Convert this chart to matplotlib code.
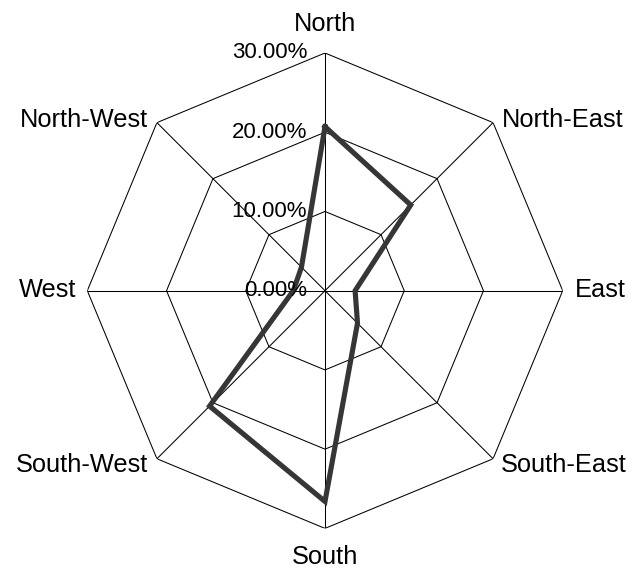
import numpy as np
import matplotlib
matplotlib.use("Agg")
import matplotlib.pyplot as plt

categories = ["North", "North-East", "East", "South-East", "South", "South-West", "West", "North-West"]
values = [20.7, 15.3, 3.8, 5.8, 26.6, 20.6, 4.0, 4.2]
ring_levels = [10, 20, 30]
tick_values = [0, 10, 20, 30]
tick_labels = ["0.00%", "10.00%", "20.00%", "30.00%"]

W, H = 635, 571
fig = plt.figure(figsize=(W / 100, H / 100), dpi=100)
plt.rcParams['font.family'] = ['Liberation Sans', 'DejaVu Sans']

cx, cy_top, R = 325.0, 290.7, 237.7
cy = H - cy_top
ax = fig.add_axes([(cx - R) / W, (cy - R) / H, 2 * R / W, 2 * R / H], projection='polar')
ax.set_theta_zero_location('N')
ax.set_theta_direction(-1)
ax.set_ylim(0, 30)
ax.axis('off')

n = len(categories)
angles = np.arange(n) * 2 * np.pi / n
closed = np.append(angles, angles[0])

# octagonal rings
for lvl in ring_levels:
    ax.plot(closed, [lvl] * (n + 1), color='black', lw=0.75, solid_joinstyle='miter')
# spokes
for a in angles:
    ax.plot([a, a], [0, 30], color='black', lw=0.75)

# data series
ax.plot(closed, values + [values[0]], color='#363636', lw=3.7, solid_joinstyle='miter')

# category labels: (dx, dy) offsets in pixels, alignment
label_specs = [
    (0, 22, 'center'),
    (9, -4, 'left'),
    (12, -6, 'left'),
    (8, -13, 'left'),
    (0, -36, 'center'),
    (-9, -13, 'right'),
    (-11, -6.5, 'right'),
    (-9, -4, 'right'),
]
for a, lab, (dx, dy, ha) in zip(angles, categories, label_specs):
    ax.annotate(lab, xy=(a, 30), xytext=(dx, dy), textcoords='offset pixels',
                ha=ha, va='baseline', fontsize=18.3, color='black', annotation_clip=False)

# radial tick labels
for v, t in zip(tick_values, tick_labels):
    ax.annotate(t, xy=(0, v), xytext=(-18, -5.5), textcoords='offset pixels',
                ha='right', va='baseline', fontsize=16, color='black', annotation_clip=False)

fig.savefig('out.png', dpi=100)
